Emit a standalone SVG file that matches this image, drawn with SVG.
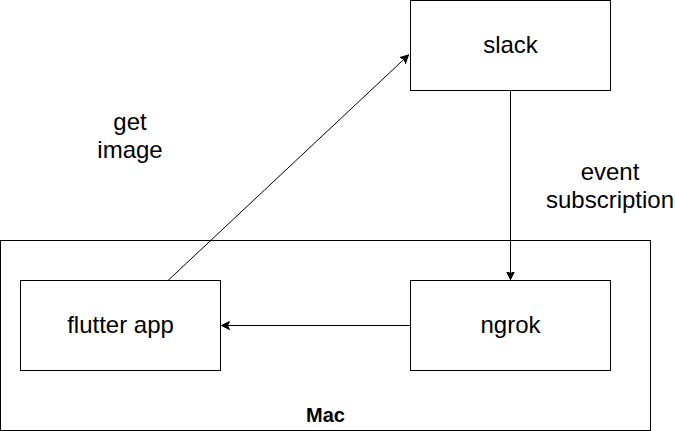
<svg xmlns="http://www.w3.org/2000/svg" width="675" height="431" viewBox="0 0 675 431">
<style>
.box{fill:#ffffff;stroke:#000000;stroke-width:1}
.grp{fill:none;stroke:#000000;stroke-width:1}
.lbl{font-family:"Liberation Sans",Arial,Helvetica,sans-serif;font-size:24px;fill:#000000;text-anchor:middle}
.bold{font-family:"Liberation Sans",Arial,Helvetica,sans-serif;font-size:20px;font-weight:bold;fill:#000000;text-anchor:middle}
.edge{fill:none;stroke:#000000;stroke-width:1}
</style>
<defs>
<marker id="arrow" markerUnits="userSpaceOnUse" markerWidth="12" markerHeight="12" refX="8" refY="4" orient="auto" viewBox="0 0 12 8">
<path d="M8,4 L0,0 L2,4 L0,8 Z" fill="#000000" stroke="#000000" stroke-width="1"/>
</marker>
</defs>
<rect width="675" height="431" fill="#ffffff"/>
<g id="mac">
<rect class="grp" x="0.5" y="240.5" width="650" height="190"/>
<text class="bold" x="325.5" y="422">Mac</text>
</g>
<g id="slack">
<rect class="box" x="410.5" y="0.5" width="200" height="90"/>
<text class="lbl" x="510.5" y="53">slack</text>
</g>
<g id="flutter">
<rect class="box" x="20.5" y="280.5" width="200" height="90"/>
<text class="lbl" x="120.5" y="333">flutter app</text>
</g>
<g id="ngrok">
<rect class="box" x="410.5" y="280.5" width="200" height="90"/>
<text class="lbl" x="510.5" y="333">ngrok</text>
</g>
<g id="connectors">
<path class="edge" d="M168,280.5 L408.5,55" marker-end="url(#arrow)"/>
<path class="edge" d="M510.5,90.5 L510.5,279.5" marker-end="url(#arrow)"/>
<path class="edge" d="M410.5,325.5 L221.5,325.5" marker-end="url(#arrow)"/>
<text class="lbl" x="130" y="130">get</text>
<text class="lbl" x="130" y="158">image</text>
<text class="lbl" x="610" y="180">event</text>
<text class="lbl" x="610" y="208">subscription</text>
</g>
</svg>
